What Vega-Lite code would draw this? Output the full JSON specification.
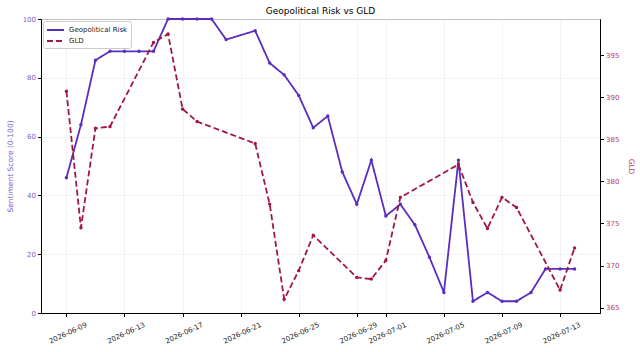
{
  "$schema": "https://vega.github.io/schema/vega-lite/v6.json",
  "width": 559,
  "height": 294,
  "autosize": {"type": "none"},
  "padding": {"left": 41, "top": 19, "right": 40, "bottom": 39},
  "title": {"text": "Geopolitical Risk vs GLD", "font": "DejaVu Sans", "fontSize": 9, "fontWeight": "normal", "color": "#000000", "offset": -1},
  "config": {
    "font": "DejaVu Sans",
    "view": {"stroke": "#000000", "strokeWidth": 1},
    "axis": {"labelFont": "DejaVu Sans", "titleFont": "DejaVu Sans", "labelFontSize": 7, "titleFontSize": 7.5, "titleFontWeight": "normal", "tickColor": "#000000", "domainColor": "#000000", "tickSize": 3.5, "labelPadding": 2, "gridColor": "#f0f0f0", "gridWidth": 0.8}
  },
  "datasets": {
    "geo": [
      {"date": "2026-06-09", "series": "Geopolitical Risk", "value": 46},
      {"date": "2026-06-10", "series": "Geopolitical Risk", "value": 64},
      {"date": "2026-06-11", "series": "Geopolitical Risk", "value": 86},
      {"date": "2026-06-12", "series": "Geopolitical Risk", "value": 89},
      {"date": "2026-06-13", "series": "Geopolitical Risk", "value": 89},
      {"date": "2026-06-14", "series": "Geopolitical Risk", "value": 89},
      {"date": "2026-06-15", "series": "Geopolitical Risk", "value": 89},
      {"date": "2026-06-16", "series": "Geopolitical Risk", "value": 100},
      {"date": "2026-06-17", "series": "Geopolitical Risk", "value": 100},
      {"date": "2026-06-18", "series": "Geopolitical Risk", "value": 100},
      {"date": "2026-06-19", "series": "Geopolitical Risk", "value": 100},
      {"date": "2026-06-20", "series": "Geopolitical Risk", "value": 93},
      {"date": "2026-06-22", "series": "Geopolitical Risk", "value": 96},
      {"date": "2026-06-23", "series": "Geopolitical Risk", "value": 85},
      {"date": "2026-06-24", "series": "Geopolitical Risk", "value": 81},
      {"date": "2026-06-25", "series": "Geopolitical Risk", "value": 74},
      {"date": "2026-06-26", "series": "Geopolitical Risk", "value": 63},
      {"date": "2026-06-27", "series": "Geopolitical Risk", "value": 67},
      {"date": "2026-06-28", "series": "Geopolitical Risk", "value": 48},
      {"date": "2026-06-29", "series": "Geopolitical Risk", "value": 37},
      {"date": "2026-06-30", "series": "Geopolitical Risk", "value": 52},
      {"date": "2026-07-01", "series": "Geopolitical Risk", "value": 33},
      {"date": "2026-07-02", "series": "Geopolitical Risk", "value": 37},
      {"date": "2026-07-03", "series": "Geopolitical Risk", "value": 30},
      {"date": "2026-07-04", "series": "Geopolitical Risk", "value": 19},
      {"date": "2026-07-05", "series": "Geopolitical Risk", "value": 7},
      {"date": "2026-07-06", "series": "Geopolitical Risk", "value": 52},
      {"date": "2026-07-07", "series": "Geopolitical Risk", "value": 4},
      {"date": "2026-07-08", "series": "Geopolitical Risk", "value": 7},
      {"date": "2026-07-09", "series": "Geopolitical Risk", "value": 4},
      {"date": "2026-07-10", "series": "Geopolitical Risk", "value": 4},
      {"date": "2026-07-11", "series": "Geopolitical Risk", "value": 7},
      {"date": "2026-07-12", "series": "Geopolitical Risk", "value": 15},
      {"date": "2026-07-13", "series": "Geopolitical Risk", "value": 15},
      {"date": "2026-07-14", "series": "Geopolitical Risk", "value": 15}
    ],
    "gld": [
      {"date": "2026-06-09", "series": "GLD", "value": 390.7},
      {"date": "2026-06-10", "series": "GLD", "value": 374.5},
      {"date": "2026-06-11", "series": "GLD", "value": 386.3},
      {"date": "2026-06-12", "series": "GLD", "value": 386.5},
      {"date": "2026-06-15", "series": "GLD", "value": 396.5},
      {"date": "2026-06-16", "series": "GLD", "value": 397.5},
      {"date": "2026-06-17", "series": "GLD", "value": 388.6},
      {"date": "2026-06-18", "series": "GLD", "value": 387.1},
      {"date": "2026-06-22", "series": "GLD", "value": 384.5},
      {"date": "2026-06-23", "series": "GLD", "value": 377.3},
      {"date": "2026-06-24", "series": "GLD", "value": 366.0},
      {"date": "2026-06-25", "series": "GLD", "value": 369.4},
      {"date": "2026-06-26", "series": "GLD", "value": 373.6},
      {"date": "2026-06-29", "series": "GLD", "value": 368.6},
      {"date": "2026-06-30", "series": "GLD", "value": 368.4},
      {"date": "2026-07-01", "series": "GLD", "value": 370.6},
      {"date": "2026-07-02", "series": "GLD", "value": 378.1},
      {"date": "2026-07-06", "series": "GLD", "value": 382.0},
      {"date": "2026-07-07", "series": "GLD", "value": 377.5},
      {"date": "2026-07-08", "series": "GLD", "value": 374.4},
      {"date": "2026-07-09", "series": "GLD", "value": 378.1},
      {"date": "2026-07-10", "series": "GLD", "value": 376.9},
      {"date": "2026-07-13", "series": "GLD", "value": 367.1},
      {"date": "2026-07-14", "series": "GLD", "value": 372.1}
    ]
  },
  "encoding": {
    "x": {
      "field": "date",
      "type": "temporal",
      "title": null,
      "scale": {"type": "utc", "domain": [{"year": 2026, "month": 6, "date": 7, "hours": 6, "utc": true}, {"year": 2026, "month": 7, "date": 15, "hours": 18, "utc": true}]},
      "axis": {
        "format": "%Y-%m-%d",
        "labelAngle": -25,
        "labelAlign": "right",
        "labelBaseline": "top",
        "labelColor": "#222222",
        "labelOffset": 18,
        "labelPadding": 4,
        "labelOverlap": false,
        "labelBound": false,
        "grid": true,
        "values": [
          {"year": 2026, "month": 6, "date": 9, "utc": true},
          {"year": 2026, "month": 6, "date": 13, "utc": true},
          {"year": 2026, "month": 6, "date": 17, "utc": true},
          {"year": 2026, "month": 6, "date": 21, "utc": true},
          {"year": 2026, "month": 6, "date": 25, "utc": true},
          {"year": 2026, "month": 6, "date": 29, "utc": true},
          {"year": 2026, "month": 7, "date": 1, "utc": true},
          {"year": 2026, "month": 7, "date": 5, "utc": true},
          {"year": 2026, "month": 7, "date": 9, "utc": true},
          {"year": 2026, "month": 7, "date": 13, "utc": true}
        ]
      }
    },
    "color": {
      "field": "series",
      "type": "nominal",
      "scale": {"domain": ["Geopolitical Risk", "GLD"], "range": ["#5b2dbf", "#a3173f"]},
      "legend": {"orient": "top-left", "title": null, "offset": 2, "padding": 3, "fillColor": "#ffffff", "strokeColor": "#cccccc", "cornerRadius": 2, "labelFontSize": 7, "labelFont": "DejaVu Sans", "labelColor": "#222222", "symbolType": "M-1,0H2.4", "symbolSize": 100, "symbolStrokeWidth": 1.8, "rowPadding": 1, "labelOffset": 11}
    },
    "strokeDash": {
      "field": "series",
      "type": "nominal",
      "scale": {"domain": ["Geopolitical Risk", "GLD"], "range": [[1, 0], [6, 3]]},
      "legend": {"orient": "top-left", "title": null}
    }
  },
  "layer": [
    {
      "data": {"name": "geo"},
      "mark": {"type": "line", "strokeWidth": 1.8, "point": {"filled": true, "size": 12}},
      "encoding": {
        "y": {
          "field": "value",
          "type": "quantitative",
          "title": "Sentiment Score (0-100)",
          "scale": {"domain": [0, 100], "nice": false, "zero": false},
          "axis": {"orient": "left", "values": [0, 20, 40, 60, 80, 100], "grid": true, "labelColor": "#7a5cc9", "titleColor": "#7a5cc9", "titlePadding": 8}
        }
      }
    },
    {
      "data": {"name": "gld"},
      "mark": {"type": "line", "strokeWidth": 1.8, "point": {"filled": true, "size": 12}},
      "encoding": {
        "y": {
          "field": "value",
          "type": "quantitative",
          "title": "GLD",
          "scale": {"domain": [364.37, 399.28], "nice": false, "zero": false},
          "axis": {"orient": "right", "values": [365, 370, 375, 380, 385, 390, 395], "grid": false, "labelColor": "#b8386a", "titleColor": "#b8386a", "titlePadding": 8}
        }
      }
    }
  ],
  "resolve": {"scale": {"y": "independent"}}
}
